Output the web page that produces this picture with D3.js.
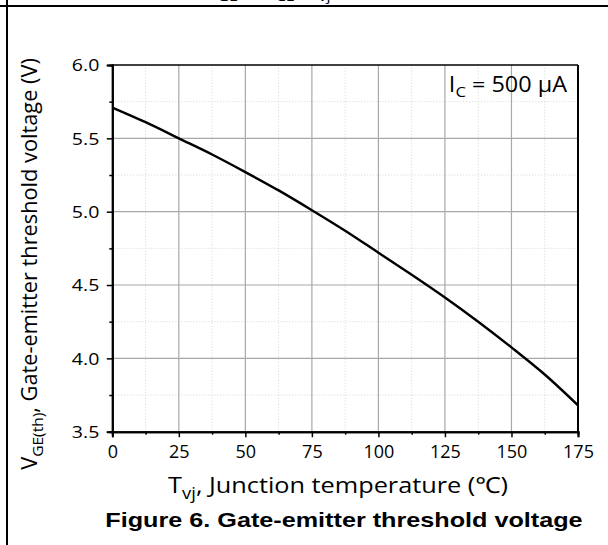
<!DOCTYPE html>
<html><head><meta charset="utf-8">
<script src="https://cdn.jsdelivr.net/npm/d3@7"></script>
<style>
html,body{margin:0;padding:0;background:#fff;}
svg{display:block;}
</style></head>
<body>
<svg id="c" width="608" height="545"></svg>
<script>
// Data
const temperature = [0, 12.5, 25, 37.5, 50, 62.5, 75, 87.5, 100, 112.5, 125, 137.5, 150, 162.5, 175];
const vgeth = [5.71, 5.61, 5.50, 5.39, 5.27, 5.145, 5.01, 4.87, 4.72, 4.57, 4.415, 4.25, 4.075, 3.89, 3.68];
const xTicks = [0, 25, 50, 75, 100, 125, 150, 175];
const xMinor = [12.5, 37.5, 62.5, 87.5, 112.5, 137.5, 162.5];
const yTicks = [3.5, 4.0, 4.5, 5.0, 5.5, 6.0];
const yMinor = [3.75, 4.25, 4.75, 5.25, 5.75];

const svg = d3.select("#c");
const FONT = "'Open Sans', 'Noto Sans', sans-serif";
const x = d3.scaleLinear().domain([0, 175]).range([112.3, 578]);
const y = d3.scaleLinear().domain([3.5, 6.0]).range([431.7, 65]);

// horizontally stretch a text element about a local x anchor to a target width
function stretch(sel, target, ax) {
  const w = sel.node().getBBox().width;
  const s = target / w;
  sel.attr("transform", `translate(${ax},0) scale(${s},1) translate(${-ax},0)`);
}

// page frame lines
svg.append("line").attr("x1", 0).attr("x2", 608).attr("y1", 6).attr("y2", 6)
  .attr("stroke", "#000").attr("stroke-width", 2);
svg.append("line").attr("x1", 7).attr("x2", 7).attr("y1", 0).attr("y2", 545)
  .attr("stroke", "#000").attr("stroke-width", 2);

// clipped header text (only its lower part is visible in the reference)
const hdr = svg.append("text").attr("x", 307).attr("y", -4).attr("text-anchor", "middle")
  .attr("font-family", FONT).attr("font-size", 18).attr("fill", "#000");
hdr.append("tspan").text("(V");
hdr.append("tspan").attr("dy", 5).attr("font-size", 13).text("GE");
hdr.append("tspan").attr("dy", -5).text(" = V");
hdr.append("tspan").attr("dy", 5).attr("font-size", 13).text("CE");
hdr.append("tspan").attr("dy", -5).text(", T");
hdr.append("tspan").attr("dy", 5).attr("font-size", 13).text("vj");
hdr.append("tspan").attr("dy", -5).text(" = 25 °C)");
stretch(hdr, 219, 307);

// grid
const g = svg.append("g");
g.selectAll(".xm").data(xMinor).join("line")
  .attr("x1", d => x(d)).attr("x2", d => x(d)).attr("y1", y(3.5)).attr("y2", y(6))
  .attr("stroke", "#d4d4d4").attr("stroke-width", 1).attr("stroke-dasharray", "1,2");
g.selectAll(".ym").data(yMinor).join("line")
  .attr("y1", d => y(d)).attr("y2", d => y(d)).attr("x1", x(0)).attr("x2", x(175))
  .attr("stroke", "#d4d4d4").attr("stroke-width", 1).attr("stroke-dasharray", "1,2");
g.selectAll(".xM").data(xTicks.slice(1, -1)).join("line")
  .attr("x1", d => x(d)).attr("x2", d => x(d)).attr("y1", y(3.5)).attr("y2", y(6))
  .attr("stroke", "#a8a8a8").attr("stroke-width", 1.2);
g.selectAll(".yM").data(yTicks.slice(1, -1)).join("line")
  .attr("y1", d => y(d)).attr("y2", d => y(d)).attr("x1", x(0)).attr("x2", x(175))
  .attr("stroke", "#a8a8a8").attr("stroke-width", 1.2);

// frame top/right
svg.append("line").attr("x1", x(0)).attr("x2", x(175)).attr("y1", y(6)).attr("y2", y(6))
  .attr("stroke", "#000").attr("stroke-width", 1.5);
svg.append("line").attr("x1", x(175)).attr("x2", x(175)).attr("y1", y(6)).attr("y2", y(3.5))
  .attr("stroke", "#000").attr("stroke-width", 2);

// curve
const line = d3.line().x((d, i) => x(temperature[i])).y(d => y(d)).curve(d3.curveCatmullRom);
svg.append("path").datum(vgeth).attr("d", line).attr("fill", "none")
  .attr("stroke", "#000").attr("stroke-width", 2.4);

// axes
const xAxis = svg.append("g").attr("transform", `translate(0,${y(3.5)})`)
  .call(d3.axisBottom(x).tickValues(xTicks).tickSize(5.5).tickPadding(0).tickFormat(d3.format("d")));
const xAxisMinor = svg.append("g").attr("transform", `translate(0,${y(3.5)})`)
  .call(d3.axisBottom(x).tickValues(xMinor).tickSize(3).tickFormat(""));
const yAxis = svg.append("g").attr("transform", `translate(${x(0)},0)`)
  .call(d3.axisLeft(y).tickValues(yTicks).tickSize(5.5).tickPadding(0).tickFormat(d3.format(".1f")));
const yAxisMinor = svg.append("g").attr("transform", `translate(${x(0)},0)`)
  .call(d3.axisLeft(y).tickValues(yMinor).tickSize(3).tickFormat(""));
[xAxis, xAxisMinor, yAxis, yAxisMinor].forEach(a => {
  a.select(".domain").attr("stroke", "#000").attr("stroke-width", 2);
  a.selectAll(".tick line").attr("stroke", "#000").attr("stroke-width", 1.5);
  a.selectAll("text").attr("font-family", FONT).attr("fill", "#000");
});
xAxis.selectAll("text").attr("font-size", 18).attr("y", 26.6).attr("dy", 0);
yAxis.selectAll("text").attr("font-size", 16).attr("x", -13).attr("dy", "0.36em")
  .each(function () {
    const t = d3.select(this);
    const w = this.getComputedTextLength();
    t.attr("textLength", w * 1.22).attr("lengthAdjust", "spacingAndGlyphs");
  });

// annotation
const ann = svg.append("text").attr("x", 567).attr("y", 92.5).attr("text-anchor", "end")
  .attr("font-family", FONT).attr("font-size", 21).attr("fill", "#000");
ann.append("tspan").text("I");
ann.append("tspan").attr("dy", 5).attr("font-size", 15).text("C");
ann.append("tspan").attr("dy", -5).text(" = 500 µA");
stretch(ann, 119, 567);

// x title
const xt = svg.append("text").attr("x", 338).attr("y", 493).attr("text-anchor", "middle")
  .attr("font-family", FONT).attr("font-size", 22).attr("fill", "#000");
xt.append("tspan").text("T");
xt.append("tspan").attr("dy", 6).attr("font-size", 16).text("vj");
xt.append("tspan").attr("dy", -6).text(", Junction temperature (℃)");
stretch(xt, 340, 338);

// y title
const ytg = svg.append("g").attr("transform", "translate(37,264) rotate(-90)");
const yt = ytg.append("text").attr("x", 0).attr("y", 0).attr("text-anchor", "middle")
  .attr("font-family", FONT).attr("font-size", 21).attr("fill", "#000");
yt.append("tspan").text("V");
yt.append("tspan").attr("dy", 6).attr("font-size", 15).text("GE(th)");
yt.append("tspan").attr("dy", -6).text(", Gate-emitter threshold voltage (V)");
stretch(yt, 412, 0);

// caption
const cap = svg.append("text").attr("x", 344).attr("y", 527).attr("text-anchor", "middle")
  .attr("font-family", "'Liberation Sans', Arial, sans-serif").attr("font-weight", "bold")
  .attr("font-size", 19.5).attr("fill", "#000").text("Figure 6. Gate-emitter threshold voltage");
stretch(cap, 478, 344);
</script>
</body></html>
